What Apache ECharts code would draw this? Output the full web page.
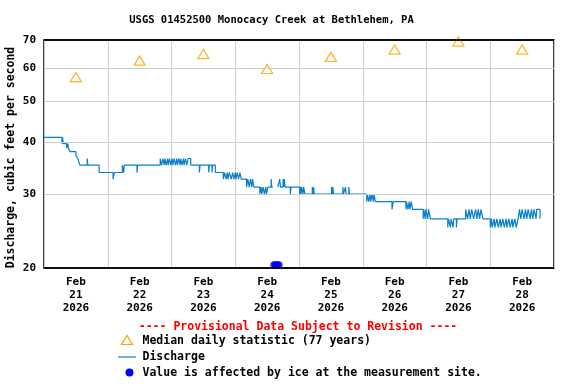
<!DOCTYPE html>
<html><head><meta charset="utf-8">
<script src="https://cdn.jsdelivr.net/npm/echarts@6/dist/echarts.min.js"></script>
<style>html,body{margin:0;padding:0;background:#fff}#c{width:576px;height:384px}</style>
</head><body><div id="c"></div>
<script>
// x values are hours after 2026-02-21 00:00
const dayLabels = ['Feb\n21\n2026','Feb\n22\n2026','Feb\n23\n2026','Feb\n24\n2026','Feb\n25\n2026','Feb\n26\n2026','Feb\n27\n2026','Feb\n28\n2026'];
const yTicks = [20, 30, 40, 50, 60, 70];
const medianHours = [12, 36, 60, 84, 108, 132, 156, 180];
const medianCfs = [57.1, 62.5, 64.8, 59.7, 63.8, 66.4, 69.4, 66.4];
const iceHours = [86.5, 87.0, 87.5, 88.0, 88.5];
const iceCfs = [20.35, 20.35, 20.35, 20.35, 20.35];
const discharge = [
[0,41.0],[6.75,39.6],[7.0,41.0],[7.25,39.6],[8.5,38.6],[9.0,39.6],[9.25,38.6],[9.75,37.9],[12.0,37.1],[12.75,36.5],[13.5,35.2],
[16.25,36.5],[16.5,35.2],[20.75,33.8],[26.0,32.6],[26.5,33.8],[29.5,35.2],[30.0,33.8],[30.25,35.2],[35.0,33.8],[35.25,35.2],
[43.75,36.5],[44.25,35.2],[44.75,36.5],[45.25,35.2],[45.5,36.5],[46.0,35.2],[46.5,36.5],[46.75,35.2],[47.25,36.5],[47.75,35.2],
[48.25,36.5],[48.5,35.2],[49.0,36.5],[49.5,35.2],[50.0,36.5],[50.25,35.2],[50.75,36.5],[51.25,35.2],[51.5,36.5],[52.0,35.2],
[52.5,36.5],[52.75,35.2],[53.25,36.5],[53.75,35.2],[54.25,36.5],[55.25,35.2],
[58.5,33.8],[58.75,35.2],[62.0,33.8],[62.25,35.2],[63.25,33.8],[63.5,35.2],[64.5,33.8],
[67.5,32.6],[68.0,33.8],[68.5,32.6],[69.0,33.8],[69.25,32.6],[69.75,33.8],[70.5,32.6],[71.0,33.8],[71.5,32.6],[72.0,33.8],
[72.25,32.6],[72.75,33.8],[73.25,32.6],[73.75,33.8],[74.25,32.6],
[76.25,31.2],[76.75,32.6],[77.25,31.2],[77.75,32.6],[78.25,31.2],[78.5,32.6],[79.0,31.2],
[81.25,30.0],[81.75,31.2],[82.0,30.0],[82.5,31.2],[83.0,30.0],[83.5,31.2],[83.75,30.0],[84.25,31.2],
[85.5,32.6],[85.75,31.2],[86.0,31.2],[86.1,null],
[88.0,31.2],[88.75,32.6],[89.0,31.2],[90.0,32.6],[90.25,31.2],[90.5,32.6],[90.75,31.2],[92.75,30.0],[93.0,31.2],
[96.25,30.0],[96.5,31.2],[96.75,30.0],[97.0,31.2],[97.5,30.0],[97.75,31.2],[98.25,30.0],
[101.0,31.2],[101.25,30.0],[101.5,31.2],[101.75,30.0],[108.25,31.2],[108.5,30.0],[108.75,31.2],[109.0,30.0],
[112.5,31.2],[112.75,30.0],[113.5,31.2],[113.75,30.0],[114.75,31.2],[115.0,30.0],
[121.5,28.8],[121.75,30.0],[122.25,28.8],[122.75,30.0],[123.0,28.8],[123.5,30.0],[124.0,28.8],[124.25,30.0],[124.75,28.8],
[131.0,27.6],[131.5,28.8],
[136.25,27.6],[136.5,28.8],[137.0,27.6],[137.5,28.8],[137.75,27.6],[138.25,28.8],[138.75,27.6],
[142.75,26.2],[143.0,27.6],[143.5,26.2],[143.75,27.6],[144.5,26.2],[144.75,27.6],[145.5,26.2],
[152.0,25.0],[152.25,26.2],[153.0,25.0],[153.25,26.2],[154.0,25.0],[154.25,26.2],[155.25,25.0],[155.5,26.2],
[158.75,27.6],[159.5,26.2],[160.0,27.6],[160.5,26.2],[161.0,27.6],[161.75,26.2],[162.5,27.6],[163.0,26.2],[163.5,27.6],
[164.0,26.2],[164.5,27.6],[165.25,26.2],
[168.0,25.0],[168.5,26.2],[168.75,25.0],[169.5,26.2],[169.75,25.0],[170.5,26.2],[171.0,25.0],[171.75,26.2],[172.0,25.0],
[172.75,26.2],[173.25,25.0],[174.0,26.2],[174.25,25.0],[175.0,26.2],[175.5,25.0],[176.25,26.2],[176.5,25.0],[177.25,26.2],
[177.75,25.0],[178.5,26.2],
[179.0,27.6],[179.5,26.2],[180.0,27.6],[180.75,26.2],[181.25,27.6],[181.75,26.2],[182.25,27.6],[183.0,26.2],[183.5,27.6],
[184.0,26.2],[184.5,27.6],[185.25,26.2],[185.5,27.6],[186.75,26.2],[187.0,26.2]
];

const FF = "'DejaVu Sans Mono', monospace";
const lineColor = '#0a80cc';
const chart = echarts.init(document.getElementById('c'), null, {renderer: 'canvas'});
chart.setOption({
  animation: false,
  backgroundColor: '#fff',
  grid: {left: 44, right: 22, top: 40, bottom: 116, show: true, borderColor: '#000', borderWidth: 1.5, containLabel: false},
  xAxis: [
    {type: 'value', min: 0, max: 192, interval: 24, position: 'bottom',
     axisLine: {show: false}, axisTick: {show: false}, axisLabel: {show: false},
     splitLine: {show: true, lineStyle: {color: '#cccccc', width: 1}}},
    {type: 'category', data: dayLabels, boundaryGap: true, position: 'bottom',
     axisLine: {show: false}, axisTick: {show: false}, splitLine: {show: false},
     axisLabel: {margin: 8, lineHeight: 13, fontFamily: FF, fontWeight: 'bold', fontSize: 11, color: '#000', interval: 0}}
  ],
  yAxis: [{type: 'log', logBase: 10, min: 20, max: 70,
     axisLine: {show: false}, axisTick: {show: false}, axisLabel: {show: false}, splitLine: {show: false}}],
  series: [
    {name: 'Median daily statistic (77 years)', type: 'scatter', z: 2, xAxisIndex: 0,
     data: medianHours.map((h, i) => [h, medianCfs[i]]),
     symbol: 'triangle', symbolSize: [11, 9],
     itemStyle: {color: 'rgba(0,0,0,0)', borderColor: '#ffa500', borderWidth: 1.3},
     markLine: {silent: true, symbol: 'none', animation: false,
       lineStyle: {color: '#cccccc', width: 1, type: 'solid'},
       label: {position: 'start', distance: 8, formatter: p => String(p.value),
               fontFamily: FF, fontWeight: 'bold', fontSize: 11, color: '#000'},
       emphasis: {disabled: true},
       data: yTicks.map(v => (v === 20 || v === 70) ? {yAxis: v, lineStyle: {color: '#000', width: 1.5}} : {yAxis: v})}
    },
    {name: 'Discharge', type: 'line', z: 3, xAxisIndex: 0, data: discharge, step: 'end',
     showSymbol: false, symbol: 'none', connectNulls: false,
     lineStyle: {color: lineColor, width: 1.2}},
    {name: 'Ice', type: 'scatter', z: 4, xAxisIndex: 0,
     data: iceHours.map((h, i) => [h, iceCfs[i]]),
     symbol: 'circle', symbolSize: 7, itemStyle: {color: '#0000ff'}}
  ],
  graphic: [
    {type: 'text', x: 271.5, y: 20, style: {text: 'USGS 01452500 Monocacy Creek at Bethlehem, PA', font: "bold 10.5px 'DejaVu Sans Mono', monospace", fill: '#000', textAlign: 'center', textVerticalAlign: 'middle'}},
    {type: 'text', x: 11, y: 157.5, rotation: Math.PI / 2, style: {text: 'Discharge, cubic feet per second', font: "bold 11.5px 'DejaVu Sans Mono', monospace", fill: '#000', textAlign: 'center', textVerticalAlign: 'middle'}},
    {type: 'text', x: 298, y: 327, style: {text: '---- Provisional Data Subject to Revision ----', font: "bold 11.5px 'DejaVu Sans Mono', monospace", fill: '#ff0000', textAlign: 'center', textVerticalAlign: 'middle'}},
    {type: 'polygon', shape: {points: [[121.5, 344.5], [132.5, 344.5], [127, 335.5]]}, style: {fill: 'none', stroke: '#ffa500', lineWidth: 1.2}},
    {type: 'text', x: 142.5, y: 341, style: {text: 'Median daily statistic (77 years)', font: "bold 11.5px 'DejaVu Sans Mono', monospace", fill: '#000', textAlign: 'left', textVerticalAlign: 'middle'}},
    {type: 'line', shape: {x1: 118, y1: 357, x2: 136, y2: 357}, style: {stroke: lineColor, lineWidth: 1.2}},
    {type: 'text', x: 142.5, y: 357, style: {text: 'Discharge', font: "bold 11.5px 'DejaVu Sans Mono', monospace", fill: '#000', textAlign: 'left', textVerticalAlign: 'middle'}},
    {type: 'circle', shape: {cx: 129.5, cy: 372.5, r: 4}, style: {fill: '#0000ff'}},
    {type: 'text', x: 142.5, y: 373, style: {text: 'Value is affected by ice at the measurement site.', font: "bold 11.5px 'DejaVu Sans Mono', monospace", fill: '#000', textAlign: 'left', textVerticalAlign: 'middle'}}
  ]
});
</script></body></html>
